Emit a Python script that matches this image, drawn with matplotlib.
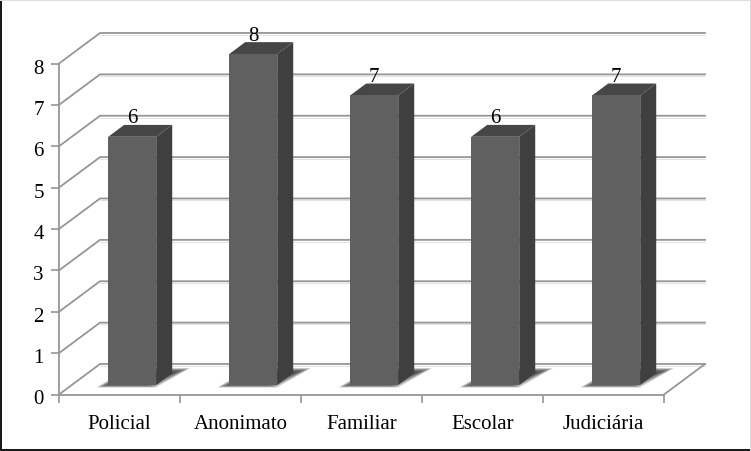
import matplotlib
matplotlib.use("Agg")
import matplotlib.pyplot as plt
from matplotlib.patches import Polygon, Rectangle
from matplotlib.transforms import ScaledTranslation

# data ---------------------------------------------------------------
categorias = ['Policial', 'Anonimato', 'Familiar', 'Escolar', 'Judiciária']
valores = [6, 8, 7, 6, 7]
ticks_y = [0, 1, 2, 3, 4, 5, 6, 7, 8]

W, H = 751, 451
plt.rcParams['font.family'] = ['Liberation Serif', 'DejaVu Serif']

fig = plt.figure(figsize=(W / 100, H / 100), dpi=100)
# plot box in pixels: x 59-664, y 63.5-394.5
ax = fig.add_axes([59 / W, 1 - 394.5 / H, 605 / W, 331 / H])
ax.set_xlim(0, 5)
ax.set_ylim(0, 8)
ax.patch.set_visible(False)

px_x = 5 / 605      # data units per pixel
px_y = 8 / 331
prof_x = 41 * px_x  # 3d offset of the back wall
prof_y = 30.5 * px_y
GRADE = '#969696'
FONTE = 15


def proj(x, y, d):
    """ move a point back by depth d (0 front, 1 back wall) """
    return (x + d * prof_x, y + d * prof_y)


# grid -----------------------------------------------------------------
for v in ticks_y:
    a = proj(0, v, 0)
    b = proj(0, v, 1)
    c = proj(5, v, 1)
    ax.plot([a[0], b[0], c[0]], [a[1], b[1], c[1]], color=GRADE, lw=1.3,
            clip_on=False, zorder=1, solid_joinstyle='miter')
    # pale line under the grid
    ax.plot([b[0], c[0]], [b[1] - 1.8 * px_y, c[1] - 1.8 * px_y], color='#e2e2e2',
            lw=0.7, clip_on=False, zorder=0.9)
fr = proj(5, 0, 0)
bk = proj(5, 0, 1)
ax.plot([fr[0], bk[0]], [fr[1], bk[1]], color=GRADE, lw=1.3, clip_on=False, zorder=1)

# bars -----------------------------------------------------------------
larg = 0.397
d0 = 0.31
d1 = 0.70
pos = [i + 0.5 for i in range(len(valores))]
lift = d0 * prof_y
shift = d0 * prof_x
fx = [p + shift for p in pos]

# soft shadow on the floor, in layers getting smaller towards the bar
N_SOMBRA = 12
for k in range(N_SOMBRA):
    enc = k * 1.2
    for f in fx:
        x0 = f - larg / 2
        pts = [(x0 + (-12 + enc) * px_x, lift + (-2.5 + enc * 0.25) * px_y),
               (x0 + (48 - enc) * px_x, lift + (-2.5 + enc * 0.25) * px_y),
               (x0 + (82 - enc) * px_x, lift + (17 - enc * 0.3) * px_y),
               (x0 + (20 + enc) * px_x, lift + (17 - enc * 0.3) * px_y)]
        ax.add_patch(Polygon(pts, closed=True, fc='#3c3c3c', ec='none', alpha=0.16,
                             zorder=2, clip_on=False))

ax.bar(fx, valores, larg, bottom=lift, color='#606060', linewidth=0, zorder=4, clip_on=False)

for p, v in zip(pos, valores):
    xe = p - larg / 2
    xd = p + larg / 2
    lado = [proj(xd, 0, d0), proj(xd, 0, d1), proj(xd, v, d1), proj(xd, v, d0)]
    topo = [proj(xe, v, d0), proj(xd, v, d0), proj(xd, v, d1), proj(xe, v, d1)]
    ax.add_patch(Polygon(lado, closed=True, fc='#3f3f3f', ec='none', zorder=3, clip_on=False))
    ax.add_patch(Polygon(topo, closed=True, fc='#464646', ec='none', zorder=3, clip_on=False))
    lx, ly = proj(p, v, d1)
    ax.text(p + shift, ly - 3.5 * px_y, str(v), ha='center', va='bottom', fontsize=FONTE,
            color='black', zorder=6, clip_on=False)

# axes -----------------------------------------------------------------
for s in ['top', 'right']:
    ax.spines[s].set_visible(False)
for s in ['left', 'bottom']:
    ax.spines[s].set_color(GRADE)
    ax.spines[s].set_linewidth(1.3)
    ax.spines[s].set_zorder(1.5)

ax.set_yticks(ticks_y)
ax.set_yticklabels([str(t) for t in ticks_y], fontsize=FONTE)
ax.tick_params(axis='y', length=6, width=1.2, color=GRADE, pad=5)
# numbers sit a little below their ticks in the original
desce = ScaledTranslation(0, -3 / 100, fig.dpi_scale_trans)
for lab in ax.get_yticklabels():
    lab.set_transform(lab.get_transform() + desce)
ax.set_xticks(range(6))
ax.set_xticklabels([])
ax.tick_params(axis='x', which='major', length=6, width=1.2, color=GRADE)
ax.set_xticks(pos, minor=True)
ax.set_xticklabels(categorias, minor=True, fontsize=FONTE)
ax.tick_params(axis='x', which='minor', length=0, pad=14.5)

# outer frame of the picture
fig.add_artist(Rectangle((0, 0), 2 / W, 1, transform=fig.transFigure, fc='#1a1a1a', ec='none'))
fig.add_artist(Rectangle((0, 0), 1, 2 / H, transform=fig.transFigure, fc='#1a1a1a', ec='none'))
fig.add_artist(Rectangle((0, 1 - 1 / H), 1, 1 / H, transform=fig.transFigure, fc='#dddddd', ec='none'))
fig.add_artist(Rectangle((1 - 1 / W, 0), 1 / W, 1, transform=fig.transFigure, fc='#dddddd', ec='none'))

fig.savefig('out.png', dpi=100)
